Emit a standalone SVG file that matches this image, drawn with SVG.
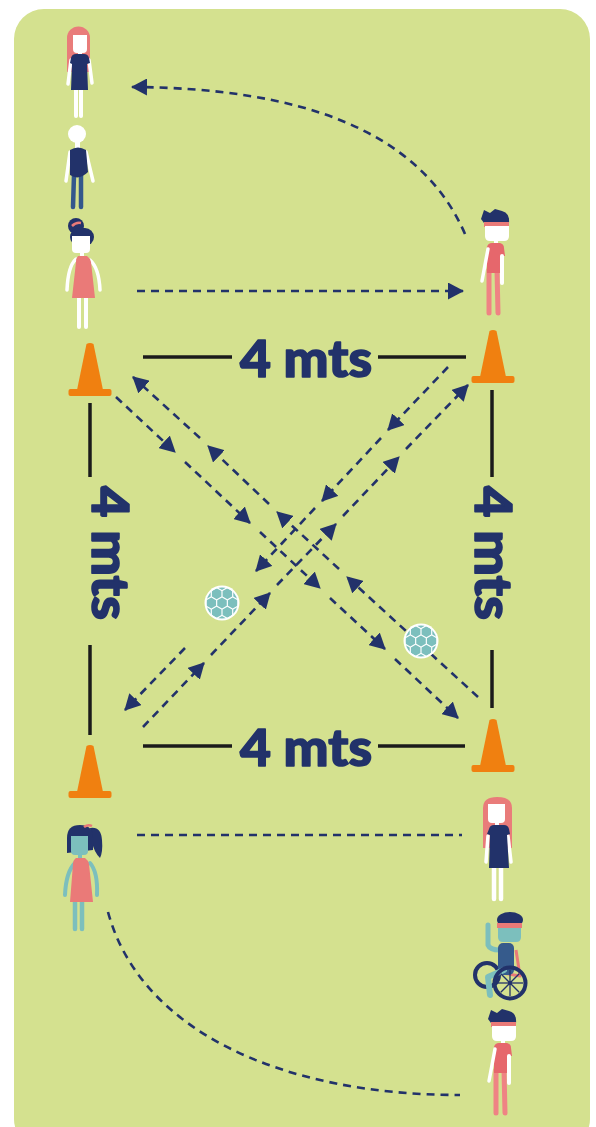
<svg xmlns="http://www.w3.org/2000/svg" xmlns:xlink="http://www.w3.org/1999/xlink" width="596" height="1127" viewBox="0 0 596 1127">
  <style>
    .dash { fill: none; stroke: #22326a; stroke-width: 2.6; stroke-dasharray: 8 6; }
    .rule { stroke: #1b1b1b; stroke-width: 3.5; stroke-linecap: butt; }
    .dim { fill: #22326a; stroke: #22326a; stroke-width: 1.6; stroke-linejoin: round; font-family: "Lato", "Open Sans", "Liberation Sans", sans-serif; font-weight: 900; font-size: 52px; text-anchor: middle; }
    .limb { fill: none; stroke-linecap: round; }
    .white { stroke: #ffffff; }
    .teal { stroke: #7cbfbd; }
    .pinkl { stroke: #ef8384; }
    .bluel { stroke: #33588c; }
  </style>
  <defs>
    <marker id="ah" markerUnits="userSpaceOnUse" markerWidth="17" markerHeight="17" refX="15" refY="8.5" orient="auto">
      <path d="M0,0 L16,8.5 L0,17 Z" fill="#22326a" stroke="none"/>
    </marker>
    <!-- traffic cone, origin at bottom centre of base -->
    <g id="cone">
      <path d="M-3.5,-52 Q0,-54 3.5,-52 L13,-6 L-13,-6 Z" fill="#f08010"/>
      <rect x="-21.5" y="-7" width="43" height="7" rx="2" fill="#f08010"/>
    </g>
    <!-- football, origin at centre -->
    <clipPath id="ballclip"><circle cx="0" cy="0" r="15.5"/></clipPath>
    <polygon id="hx" points="0,-5.5 4.76,-2.75 4.76,2.75 0,5.5 -4.76,2.75 -4.76,-2.75"/>
    <g id="ball">
      <circle cx="0" cy="0" r="17.5" fill="#ffffff"/>
      <g clip-path="url(#ballclip)" fill="#7cbfbd">
        <use href="#hx" x="-10.7" y="0"/><use href="#hx" x="0" y="0"/><use href="#hx" x="10.7" y="0"/>
        <use href="#hx" x="-16.05" y="-9.3"/><use href="#hx" x="-5.35" y="-9.3"/><use href="#hx" x="5.35" y="-9.3"/><use href="#hx" x="16.05" y="-9.3"/>
        <use href="#hx" x="-16.05" y="9.3"/><use href="#hx" x="-5.35" y="9.3"/><use href="#hx" x="5.35" y="9.3"/><use href="#hx" x="16.05" y="9.3"/>
        <use href="#hx" x="-10.7" y="-18.6"/><use href="#hx" x="0" y="-18.6"/><use href="#hx" x="10.7" y="-18.6"/>
        <use href="#hx" x="-10.7" y="18.6"/><use href="#hx" x="0" y="18.6"/><use href="#hx" x="10.7" y="18.6"/>
      </g>
    </g>
    <!-- boy with headband -->
    <g id="boy">
      <line class="limb pinkl" x1="489" y1="270" x2="489" y2="313" stroke-width="5"/>
      <line class="limb pinkl" x1="497" y1="270" x2="498" y2="313" stroke-width="5"/>
      <path d="M481,219 L484,210 L490,213 L495,209 L502,211 Q510,213 509,223 L484,223 Z" fill="#22326a"/>
      <rect x="484" y="222" width="25" height="5" fill="#ea7a78"/>
      <path d="M485,226 L509,226 L509,236 Q509,241 504,241 L490,241 Q485,241 485,236 Z" fill="#ffffff"/>
      <rect x="494" y="240" width="4" height="4" fill="#ffffff"/>
      <path d="M487,247 Q488,243 492,243 L500,243 Q504,244 504,248 L505,256 L501,256 L502,273 L487,273 Z" fill="#e6676c"/>
      <line class="limb white" x1="488" y1="249" x2="482" y2="281" stroke-width="3.5"/>
      <line class="limb white" x1="502" y1="256" x2="502" y2="283" stroke-width="4"/>
    </g>
  </defs>

  <!-- playing area -->
  <rect id="field" x="14" y="9" width="576" height="1140" rx="30" fill="#d4e18f"/>

  <!-- 4 m measurement rules -->
  <g id="measures">
    <line class="rule" x1="143" y1="357" x2="232" y2="357"/>
    <line class="rule" x1="378" y1="357" x2="466" y2="357"/>
    <text class="dim" x="306" y="377" textLength="132" lengthAdjust="spacingAndGlyphs">4 mts</text>
    <line class="rule" x1="143" y1="746" x2="232" y2="746"/>
    <line class="rule" x1="378" y1="746" x2="465" y2="746"/>
    <text class="dim" x="306" y="766" textLength="132" lengthAdjust="spacingAndGlyphs">4 mts</text>
    <line class="rule" x1="90" y1="403" x2="90" y2="477"/>
    <line class="rule" x1="90" y1="645" x2="90" y2="735"/>
    <text class="dim" transform="translate(92,553) rotate(90)" x="0" y="0" textLength="134" lengthAdjust="spacingAndGlyphs">4 mts</text>
    <line class="rule" x1="492" y1="390" x2="492" y2="477"/>
    <line class="rule" x1="492" y1="650" x2="492" y2="708"/>
    <text class="dim" transform="translate(475,553) rotate(90)" x="0" y="0" textLength="134" lengthAdjust="spacingAndGlyphs">4 mts</text>
  </g>

  <!-- cones -->
  <g id="cone-tl"><use href="#cone" x="90" y="396"/></g>
  <g id="cone-tr"><use href="#cone" x="493" y="383"/></g>
  <g id="cone-bl"><use href="#cone" x="90" y="798"/></g>
  <g id="cone-br"><use href="#cone" x="493" y="772"/></g>

  <!-- runs and passes -->
  <g id="connectors">
    <path class="dash" d="M465,234 C420,130 300,88 132,87" marker-end="url(#ah)"/>
    <path class="dash" d="M137,291 L463,291" marker-end="url(#ah)"/>
    <path class="dash" d="M137,835 L462,835"/>
    <path class="dash" d="M108,912 C140,1030 280,1095 460,1095"/>
    <!-- top-left to bottom-right -->
    <path class="dash" d="M116,397 L175,452" marker-end="url(#ah)"/>
    <path class="dash" d="M185,462 L250,523" marker-end="url(#ah)"/>
    <path class="dash" d="M260,532 L320,588" marker-end="url(#ah)"/>
    <path class="dash" d="M330,598 L385,649" marker-end="url(#ah)"/>
    <path class="dash" d="M395,659 L458,718" marker-end="url(#ah)"/>
    <!-- bottom-right to top-left -->
    <path class="dash" d="M478,697 L347,577" marker-end="url(#ah)"/>
    <path class="dash" d="M339,569 L277,512" marker-end="url(#ah)"/>
    <path class="dash" d="M269,504 L208,446" marker-end="url(#ah)"/>
    <path class="dash" d="M200,438 L133,377" marker-end="url(#ah)"/>
    <!-- bottom-left to top-right -->
    <path class="dash" d="M143,727 L204,663" marker-end="url(#ah)"/>
    <path class="dash" d="M211,655 L270,593" marker-end="url(#ah)"/>
    <path class="dash" d="M277,585 L336,524" marker-end="url(#ah)"/>
    <path class="dash" d="M343,516 L399,457" marker-end="url(#ah)"/>
    <path class="dash" d="M406,449 L468,385" marker-end="url(#ah)"/>
    <!-- top-right to bottom-left -->
    <path class="dash" d="M448,367 L388,430" marker-end="url(#ah)"/>
    <path class="dash" d="M381,438 L322,501" marker-end="url(#ah)"/>
    <path class="dash" d="M315,508 L256,571" marker-end="url(#ah)"/>
    <path class="dash" d="M185,648 L125,710" marker-end="url(#ah)"/>
  </g>

  <!-- balls -->
  <g id="ball-1"><use href="#ball" x="222" y="603"/></g>
  <g id="ball-2"><use href="#ball" x="421" y="641"/></g>

  <!-- players -->
  <g id="player-1">
    <path d="M67,72 L67,38 A11.5,11.5 0 0 1 90,38 L90,72 Z" fill="#e97c7a"/>
    <path d="M73,35 L87,35 L87,49 Q87,53 83,53 L77,53 Q73,53 73,49 Z" fill="#ffffff"/>
    <rect x="78" y="52" width="4" height="4" fill="#ffffff"/>
    <line class="limb white" x1="76" y1="89" x2="76" y2="116" stroke-width="4"/>
    <line class="limb white" x1="81" y1="89" x2="81" y2="116" stroke-width="4"/>
    <line class="limb white" x1="71" y1="60" x2="68" y2="84" stroke-width="3.5"/>
    <line class="limb white" x1="89" y1="60" x2="92" y2="83" stroke-width="3.5"/>
    <path d="M71,58 Q72,54 76,54 L84,54 Q88,54 89,58 L90,63 L87,64 L88,90 L71,90 L72,64 L70,63 Z" fill="#22326a"/>
  </g>

  <g id="player-2">
    <circle cx="77" cy="134" r="9" fill="#ffffff"/>
    <rect x="75" y="142" width="5" height="6" fill="#ffffff"/>
    <line class="limb bluel" x1="74" y1="175" x2="73" y2="207" stroke-width="4.5"/>
    <line class="limb bluel" x1="81" y1="175" x2="81" y2="207" stroke-width="4.5"/>
    <line class="limb white" x1="70" y1="152" x2="66" y2="181" stroke-width="3.5"/>
    <line class="limb white" x1="86" y1="152" x2="93" y2="181" stroke-width="3.5"/>
    <path d="M70,150 Q78,145 86,150 L88,172 Q79,181 70,175 Z" fill="#22326a"/>
  </g>

  <g id="player-3">
    <circle cx="76" cy="226" r="8" fill="#22326a"/>
    <path d="M72,226 Q76,222 81,223" fill="none" stroke="#ea7a78" stroke-width="2.5"/>
    <rect x="70" y="228" width="24" height="18" rx="9" fill="#22326a"/>
    <path d="M72,236 L90,236 L90,249 Q90,253 86,253 L76,253 Q72,253 72,249 Z" fill="#ffffff"/>
    <rect x="80" y="252" width="4" height="5" fill="#ffffff"/>
    <line class="limb white" x1="79" y1="297" x2="79" y2="327" stroke-width="4"/>
    <line class="limb white" x1="86" y1="297" x2="86" y2="327" stroke-width="4"/>
    <path class="limb white" d="M76,259 Q68,266 67,290" stroke-width="3.5"/>
    <path class="limb white" d="M90,260 Q99,268 100,290" stroke-width="3.5"/>
    <path d="M78,256 L87,256 Q90,258 91,262 L95,298 L72,298 L76,262 Q76,258 78,256 Z" fill="#ea7a78"/>
  </g>

  <g id="player-4"><use href="#boy"/></g>

  <g id="player-5">
    <path d="M90,828 Q101,826 102,840 Q103,852 100,858 Q94,852 92,842 Z" fill="#22326a"/>
    <path d="M67,853 L67,838 Q67,825 80,825 Q93,825 93,838 L93,850 Z" fill="#22326a"/>
    <path d="M84,827 Q88,824 92,826" fill="none" stroke="#ea7a78" stroke-width="2.5"/>
    <path d="M71,836 L88,836 L88,851 Q88,855 84,855 L75,855 Q71,855 71,851 Z" fill="#7cbfbd"/>
    <rect x="78" y="854" width="4" height="5" fill="#7cbfbd"/>
    <line class="limb teal" x1="75" y1="901" x2="75" y2="929" stroke-width="4.5"/>
    <line class="limb teal" x1="82" y1="901" x2="82" y2="929" stroke-width="4.5"/>
    <path class="limb teal" d="M75,863 Q66,872 65,895" stroke-width="4"/>
    <path class="limb teal" d="M90,863 Q98,872 97,895" stroke-width="4"/>
    <path d="M76,858 L85,858 Q88,860 89,864 L93,902 L70,902 L73,864 Q73,860 76,858 Z" fill="#ea7a78"/>
  </g>

  <g id="player-6">
    <path d="M483,848 L483,808 Q483,797 497,797 Q512,797 512,808 L512,848 Z" fill="#e97c7a"/>
    <path d="M488,804 L505,804 L505,819 Q505,823 501,823 L492,823 Q488,823 488,819 Z" fill="#ffffff"/>
    <rect x="495" y="822" width="4" height="4" fill="#ffffff"/>
    <line class="limb white" x1="494" y1="867" x2="494" y2="899" stroke-width="4.5"/>
    <line class="limb white" x1="501" y1="867" x2="501" y2="899" stroke-width="4.5"/>
    <line class="limb white" x1="488" y1="836" x2="486" y2="862" stroke-width="3.5"/>
    <line class="limb white" x1="508" y1="836" x2="511" y2="862" stroke-width="3.5"/>
    <path d="M489,829 Q490,825 494,825 L504,825 Q508,825 509,829 L510,834 L507,835 L509,868 L489,868 L490,835 L487,834 Z" fill="#22326a"/>
  </g>

  <g id="player-7">
    <!-- rear wheel -->
    <circle cx="487" cy="975" r="12" fill="none" stroke="#22326a" stroke-width="4"/>
    <!-- seat and back -->
    <path d="M516,950 L520,976 L496,972" fill="none" stroke="#ea7a78" stroke-width="3" stroke-linejoin="round"/>
    <path class="limb teal" d="M488,925 L488,945 Q490,950 500,950" stroke-width="5"/>
    <rect x="498" y="943" width="16" height="32" rx="5" fill="#365b8c"/>
    <path class="limb teal" d="M504,970 L488,977 L490,995" stroke-width="6" stroke-linejoin="round"/>
    <!-- front wheel -->
    <circle cx="510" cy="983" r="15.5" fill="none" stroke="#22326a" stroke-width="4"/>
    <g stroke="#22326a" stroke-width="1.3">
      <line x1="497" y1="983" x2="523" y2="983"/>
      <line x1="510" y1="970" x2="510" y2="996"/>
      <line x1="500.8" y1="973.8" x2="519.2" y2="992.2"/>
      <line x1="519.2" y1="973.8" x2="500.8" y2="992.2"/>
    </g>
    <circle cx="510" cy="983" r="2" fill="#22326a"/>
    <!-- head -->
    <path d="M498,928 L521,928 L521,937 Q521,942 516,942 L503,942 Q498,942 498,937 Z" fill="#7cbfbd"/>
    <ellipse cx="510" cy="920" rx="13" ry="8" fill="#22326a"/>
    <rect x="497" y="923" width="25" height="5" fill="#ea7a78"/>
  </g>

  <g id="player-8"><use href="#boy" transform="translate(7,800)"/></g>
</svg>
